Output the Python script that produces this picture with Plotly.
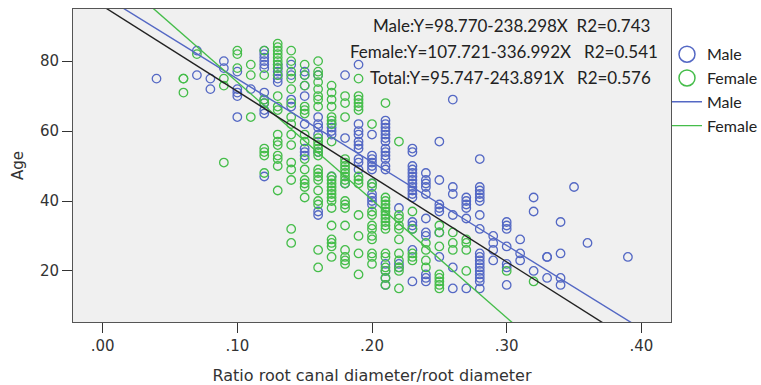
import plotly.graph_objects as go

# ---- data ----
male_ratio = [0.04, 0.07, 0.08, 0.09, 0.10, 0.11, 0.12, 0.13, 0.14, 0.15, 0.16, 0.17,
              0.18, 0.19, 0.20, 0.21, 0.22, 0.23, 0.24, 0.25, 0.26, 0.27, 0.28, 0.29,
              0.30, 0.31, 0.32, 0.33, 0.34, 0.35, 0.36, 0.39]
male_ages = [
    [75],
    [83, 76],
    [75, 72],
    [80, 78],
    [77, 72, 71, 70, 64],
    [72],
    [83, 82, 81, 80, 79, 78, 71, 69, 68, 66, 65, 47],
    [79, 78, 77, 76, 75, 74],
    [79, 76, 69, 67],
    [77, 76, 73, 70, 62, 55, 54, 53],
    [76, 64, 62, 61, 59, 54, 37, 36],
    [62, 61, 60, 59, 47],
    [76, 58, 45],
    [79, 62, 60, 59, 57, 56, 55, 52, 51, 49],
    [59, 53, 52, 51, 50, 49, 45, 42, 41, 40, 39],
    [63, 62, 61, 60, 59, 58, 57, 55, 54, 53, 52, 50, 49, 22, 20, 18, 16],
    [38, 22, 21],
    [55, 54, 50, 49, 48, 47, 46, 45, 44, 43, 42, 41, 34, 33, 32, 26, 17],
    [48, 46, 45, 44, 42, 35, 31, 30, 19, 18, 17],
    [57, 46, 39, 38, 37, 31, 24],
    [69, 44, 42, 36, 21, 15],
    [41, 40, 39, 38, 35, 15],
    [52, 44, 43, 42, 41, 40, 36, 32, 25, 24, 23, 22, 21, 20, 19, 18, 17, 15],
    [30, 28, 26, 23],
    [34, 33, 32, 27, 22, 21, 16],
    [29, 25, 23],
    [41, 37, 20],
    [24, 24, 18],
    [34, 25, 18, 16],
    [44],
    [28],
    [24],
]

female_ratio = [0.06, 0.07, 0.09, 0.10, 0.11, 0.12, 0.13, 0.14, 0.15, 0.16, 0.17, 0.18,
                0.19, 0.20, 0.21, 0.22, 0.23, 0.24, 0.25, 0.26, 0.27, 0.30, 0.32]
female_ages = [
    [75, 75, 71],
    [82],
    [75, 73, 51],
    [83, 82, 78],
    [79, 76, 64],
    [83, 76, 69, 68, 55, 54, 53, 48],
    [85, 84, 83, 82, 81, 80, 79, 78, 76, 70, 67, 66, 59, 57, 56, 53, 52, 50, 43],
    [83, 80, 77, 75, 72, 68, 64, 62, 59, 56, 51, 49, 46, 32, 28],
    [79, 76, 73, 67, 66, 65, 59, 57, 52, 49, 46, 45, 44, 41],
    [80, 77, 76, 74, 72, 70, 69, 67, 58, 57, 56, 55, 54, 53, 49, 48, 47, 46, 43, 40, 39, 26, 21],
    [73, 71, 69, 67, 64, 63, 62, 57, 47, 46, 45, 44, 43, 42, 41, 40, 38, 33, 29, 28, 27, 24],
    [70, 68, 64, 52, 51, 50, 49, 48, 47, 46, 45, 40, 39, 38, 33, 26, 24, 23, 22],
    [75, 70, 69, 68, 67, 66, 47, 46, 45, 36, 30, 25, 19],
    [62, 45, 44, 37, 36, 33, 32, 30, 29, 25, 24, 22],
    [68, 41, 40, 39, 38, 37, 36, 35, 34, 33, 32, 25, 24, 21, 20, 18, 16],
    [57, 36, 35, 33, 32, 29, 25, 23, 21, 20, 15],
    [37, 32, 25, 24, 23],
    [28, 26, 23, 21],
    [33, 31, 27, 19, 18, 17, 16, 15],
    [31, 28, 26],
    [29, 28, 26, 20],
    [20],
    [17],
]

fit_labels = ["Male", "Female", "Total"]
fit_intercepts = [98.770, 107.721, 95.747]
fit_slopes = [-238.298, -336.992, -243.891]
fit_r2 = [0.743, 0.541, 0.576]

x_tickvals = [0.0, 0.1, 0.2, 0.3, 0.4]
x_ticktext = [".00", ".10", ".20", ".30", ".40"]
y_tickvals = [20, 40, 60, 80]

# ---- styling ----
BLUE = "#5468c4"
GREEN = "#45bd4a"
BLACK = "#222222"
X_RANGE = [-0.022, 0.422]
Y_RANGE = [5.4, 94.9]


def flatten(ratios, ages):
    xs, ys = [], []
    for r, col in zip(ratios, ages):
        for a in col:
            xs.append(r)
            ys.append(a)
    return xs, ys


mx, my = flatten(male_ratio, male_ages)
fx, fy = flatten(female_ratio, female_ages)

fig = go.Figure()

fig.add_trace(go.Scatter(x=mx, y=my, mode="markers", showlegend=False,
                         marker=dict(symbol="circle-open", size=8.5, color=BLUE,
                                     line=dict(width=1.3, color=BLUE))))
fig.add_trace(go.Scatter(x=fx, y=fy, mode="markers", showlegend=False,
                         marker=dict(symbol="circle-open", size=8.5, color=GREEN,
                                     line=dict(width=1.3, color=GREEN))))

line_colors = [BLUE, GREEN, BLACK]
for lab, b0, b1, col in zip(fit_labels, fit_intercepts, fit_slopes, line_colors):
    xs = [X_RANGE[0], X_RANGE[1]]
    ys = [b0 + b1 * v for v in xs]
    fig.add_trace(go.Scatter(x=xs, y=ys, mode="lines", showlegend=False,
                             line=dict(color=col, width=1.4)))

# legend entries
fig.add_trace(go.Scatter(x=[None], y=[None], mode="markers", name="Male",
                         marker=dict(symbol="circle-open", size=16, color=BLUE,
                                     line=dict(width=1.5, color=BLUE))))
fig.add_trace(go.Scatter(x=[None], y=[None], mode="markers", name="Female",
                         marker=dict(symbol="circle-open", size=16, color=GREEN,
                                     line=dict(width=1.5, color=GREEN))))
fig.add_trace(go.Scatter(x=[None], y=[None], mode="lines", name="Male",
                         line=dict(color=BLUE, width=1.4)))
fig.add_trace(go.Scatter(x=[None], y=[None], mode="lines", name="Female",
                         line=dict(color=GREEN, width=1.4)))

# equations
eq_spaces = [2, 3, 3]
eq_x = [0.9682, 0.9816, 0.9699]
eq_y = [0.9457, 0.8658, 0.7827]
for lab, b0, b1, r2, sp, ax, ay in zip(fit_labels, fit_intercepts, fit_slopes, fit_r2,
                                       eq_spaces, eq_x, eq_y):
    txt = f"{lab}:Y={b0:.3f}-{abs(b1):.3f}X" + "\u00a0" * sp + f"R2={r2:.3f}"
    fig.add_annotation(text=txt, xref="paper", yref="paper", x=ax, y=ay,
                       xanchor="right", yanchor="middle", showarrow=False,
                       font=dict(family="Lato", size=17, color="#222222"))

axis_common = dict(showline=True, linecolor="#555555", linewidth=1, mirror=True,
                   showgrid=False, zeroline=False, ticks="outside", ticklen=10,
                   tickcolor="#333333", tickwidth=1.2, automargin=False,
                   tickfont=dict(family="DejaVu Sans", size=15, color="#333333"))

fig.update_layout(
    width=761, height=385,
    margin=dict(l=73, r=90, t=9, b=63, autoexpand=False),
    paper_bgcolor="white", plot_bgcolor="#f0f0f0",
    xaxis=dict(range=X_RANGE, tickvals=x_tickvals, ticktext=x_ticktext,
               title=dict(text="Ratio root canal diameter/root diameter", standoff=18,
                          font=dict(family="DejaVu Sans", size=16, color="#333333")),
               **axis_common),
    yaxis=dict(range=Y_RANGE, tickvals=y_tickvals,
               title=dict(text="Age", standoff=12,
                          font=dict(family="DejaVu Sans", size=15, color="#333333")),
               **axis_common),
    legend=dict(x=0.9933, xanchor="left", y=0.9096, yanchor="top",
                font=dict(family="Lato", size=16, color="#222222"),
                bgcolor="rgba(0,0,0,0)", tracegroupgap=0),
    showlegend=True,
)

fig.write_html("out.html", config={"displayModeBar": False},
               post_script="document.body.style.margin='0px';")
